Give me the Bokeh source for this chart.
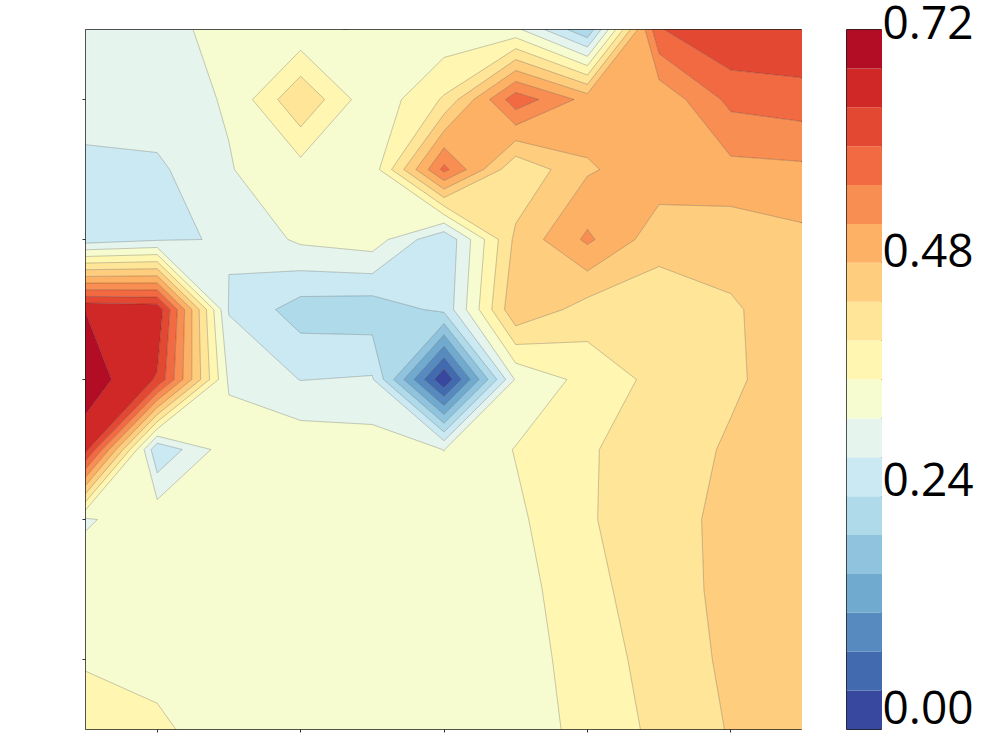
import numpy as np
from bokeh.core.properties import value
from bokeh.embed import file_html
from bokeh.layouts import column, row
from bokeh.models import BoxAnnotation, FixedTicker, Range1d
from bokeh.plotting import figure
from bokeh.resources import INLINE

# grid rows, listed from the top of the chart downwards
row_0 = [.300, .310, .330, .328, .328, .330, .330, .205, .597, .640, .640]
row_1 = [.300, .305, .323, .436, .329, .405, .586, .505, .490, .571, .582]
row_2 = [.269, .272, .318, .344, .337, .572, .406, .475, .504, .508, .512]
row_3 = [.258, .275, .283, .328, .342, .243, .450, .5276, .456, .455, .470]
row_4 = [.679, .670, .277, .220, .215, .250, .475, .422, .4145, .4356, .460]
row_5 = [.705, .636, .313, .279, .284, .001, .325, .374, .412, .434, .460]
row_6 = [.655, .245, .345, .349, .340, .3195, .362, .396, .420, .445, .470]
row_7 = [.314, .350, .342, .338, .336, .340, .352, .396, .424, .451, .470]
row_8 = [.350, .345, .340, .335, .335, .335, .343, .389, .420, .452, .470]
row_9 = [.358, .350, .340, .335, .335, .335, .339, .380, .4155, .4485, .465]
row_10 = [.370, .366, .343, .335, .335, .335, .335, .3745, .409, .443, .462]

levels = [0.00, 0.04, 0.08, 0.12, 0.16, 0.20, 0.24, 0.28, 0.32, 0.36,
          0.40, 0.44, 0.48, 0.52, 0.56, 0.60, 0.64, 0.68, 0.72]
tick_values = [0.00, 0.24, 0.48, 0.72]
tick_labels = ["0.00", "0.24", "0.48", "0.72"]
grid_ticks = [1, 3, 5, 7, 9]
anchors = ["#313695", "#4575b4", "#74add1", "#abd9e9", "#e0f3f8", "#ffffbf",
           "#fee090", "#fdae61", "#f46d43", "#d73027", "#a50026"]


def sample_palette(hexes, n):
    rgb = np.array([[int(h[i:i + 2], 16) for i in (1, 3, 5)] for h in hexes], float)
    pos = (np.arange(n) + 0.5) / n * (len(hexes) - 1)
    out = []
    for t in pos:
        a = int(t)
        f = t - a
        c = rgb[a] * (1 - f) + rgb[min(a + 1, len(hexes) - 1)] * f
        out.append("#%02x%02x%02x" % tuple(int(round(v)) for v in c))
    return out


palette = sample_palette(anchors, len(levels) - 1)
z = np.array([row_0, row_1, row_2, row_3, row_4, row_5, row_6, row_7, row_8, row_9, row_10])
xs = np.arange(z.shape[1])
ys = np.arange(z.shape[0])

p = figure(width=802, height=744, x_range=Range1d(0, 10), y_range=Range1d(10, 0),
           output_backend="svg", toolbar_location=None,
           min_border_left=85, min_border_right=0, min_border_top=29, min_border_bottom=15)
p.contour(xs, ys, z, levels, fill_color=palette, line_color="#000000",
          line_alpha=0.35, line_width=0.6)
p.grid.visible = False
p.outline_line_color = "#1c1c1c"
p.outline_line_width = 1
for ax in (p.xaxis[0], p.yaxis[0]):
    ax.ticker = FixedTicker(ticks=grid_ticks)
    ax.axis_line_color = None
    ax.major_tick_in = 0
    ax.major_tick_out = 3
    ax.major_tick_line_color = "#333333"
    ax.minor_tick_line_color = None
    ax.major_label_text_font_size = "0px"
    ax.major_label_text_color = None
    ax.major_label_standoff = 0
# the small cropped mark on the upper edge of the plot
p.add_layout(BoxAnnotation(left=342, right=348, top=26, bottom=29,
                           left_units="canvas", right_units="canvas",
                           top_units="canvas", bottom_units="canvas",
                           fill_color="#111111", fill_alpha=1, line_color=None))

cb = figure(width=80, height=744, x_range=Range1d(0, 1), y_range=Range1d(levels[0], levels[-1]),
            output_backend="svg", toolbar_location=None,
            min_border_left=44, min_border_right=0, min_border_top=29, min_border_bottom=15)
cb.quad(left=0, right=1, bottom=levels[:-1], top=levels[1:], fill_color=palette, line_color=None)
cb.grid.visible = False
cb.xaxis.visible = False
cb.yaxis.visible = False
cb.outline_line_color = "#1c1c1c"
cb.outline_line_width = 1

# colour-bar labels sit on their own strip, spread a little tighter than the bar
labels = figure(width=110, height=744, x_range=Range1d(0, 110), y_range=Range1d(-0.0389, 0.7431),
                output_backend="svg", toolbar_location=None,
                min_border_left=0, min_border_right=0, min_border_top=0, min_border_bottom=0)
labels.text(x=[0] * len(tick_values), y=tick_values, text=tick_labels,
            text_font=value("Open Sans"), text_font_size="46px", text_color="#000000",
            text_align="left", text_baseline="middle")
labels.grid.visible = False
labels.axis.visible = False
labels.outline_line_color = None

open("out.html", "w").write(file_html(row(row(p, cb), column(labels)), INLINE))
